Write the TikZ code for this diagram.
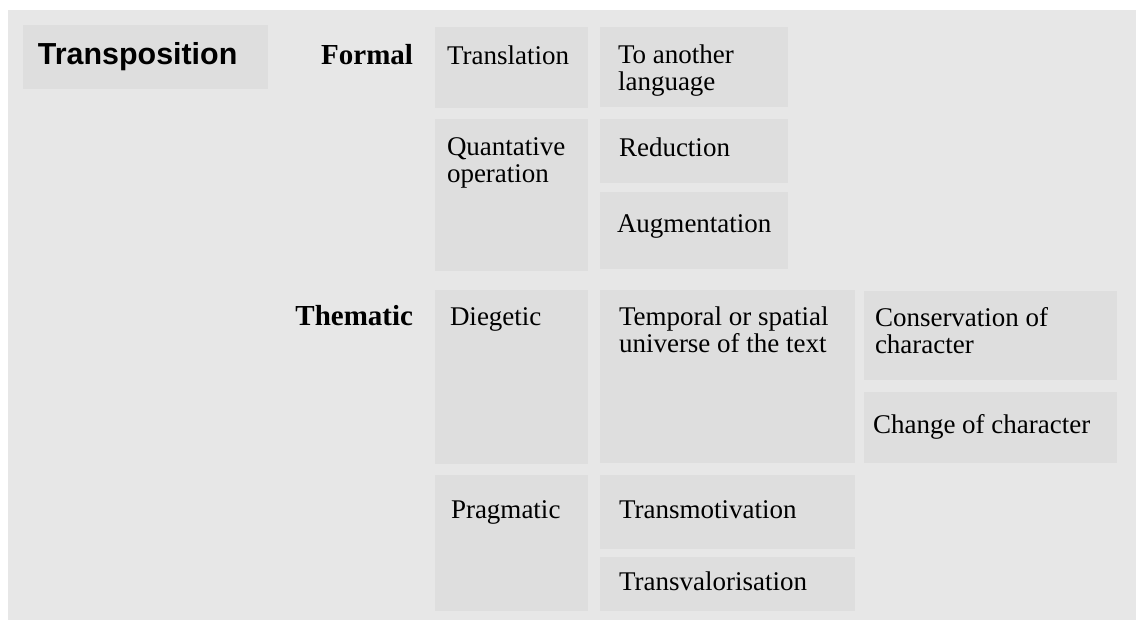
\documentclass[tikz,border=0pt]{standalone}
\usepackage{fontspec}
\setmainfont{Liberation Serif}
\setsansfont{Liberation Sans}
\usetikzlibrary{fit}
\definecolor{panelgray}{HTML}{E7E7E7}
\definecolor{boxgray}{HTML}{DEDEDE}
\tikzset{
  cell/.style={inner sep=0pt, outer sep=0pt, fill=boxgray, draw=none},
  txt/.style={anchor=base west, inner sep=0pt, outer sep=0pt, align=left,
    font=\fontsize{13.5}{13.7}\selectfont},
  cat/.style={anchor=base east, inner sep=0pt, outer sep=0pt,
    font=\fontsize{14.5}{15}\selectfont\bfseries},
  ttl/.style={anchor=base west, inner sep=0pt, outer sep=0pt,
    font=\fontsize{15.2}{16}\selectfont\sffamily\bfseries}
}
\begin{document}
\begin{tikzpicture}[x=0.5pt,y=-0.5pt]
\useasboundingbox (0,0) rectangle (1136,620);
\fill[panelgray] (8,10) rectangle (1136,620);
% boxes
\node[cell, fit={(23,25) (268,89)}] (btrans) {};
\node[cell, fit={(435,27) (588,108)}] (btransl) {};
\node[cell, fit={(600,27) (788,107)}] (banother) {};
\node[cell, fit={(435,119) (588,271)}] (bquant) {};
\node[cell, fit={(600,119) (788,183)}] (breduc) {};
\node[cell, fit={(600,192) (788,269)}] (baugm) {};
\node[cell, fit={(435,290) (588,464)}] (bdieg) {};
\node[cell, fit={(600,290) (855,463)}] (btemp) {};
\node[cell, fit={(864,291) (1117,380)}] (bcons) {};
\node[cell, fit={(864,392) (1117,463)}] (bchange) {};
\node[cell, fit={(435,475) (588,611)}] (bprag) {};
\node[cell, fit={(600,475) (855,549)}] (bmotiv) {};
\node[cell, fit={(600,557) (855,611)}] (bvalor) {};
% texts (multi-line nodes: base is the last line)
\node[ttl] (ttrans) at (38,65) {Transposition};
\node[cat] (tformal) at (413,65) {Formal};
\node[cat] (tthem) at (413,326) {Thematic};
\node[txt] (ttransl) at (447,65) {Translation};
\node[txt] (tanother) at (618,91) {To another\\language};
\node[txt] (tquant) at (447,183) {Quantative\\operation};
\node[txt] (treduc) at (619,157) {Reduction};
\node[txt] (taugm) at (617,233) {Augmentation};
\node[txt] (tdieg) at (450,326) {Diegetic};
\node[txt] (ttemp) at (619,353) {Temporal or spatial\\universe of the text};
\node[txt] (tcons) at (875,354) {Conservation of\\character};
\node[txt] (tchange) at (873,434) {Change of character};
\node[txt] (tprag) at (451,518) {Pragmatic};
\node[txt] (tmotiv) at (619,518) {Transmotivation};
\node[txt] (tvalor) at (619,590) {Transvalorisation};
\end{tikzpicture}
\end{document}
